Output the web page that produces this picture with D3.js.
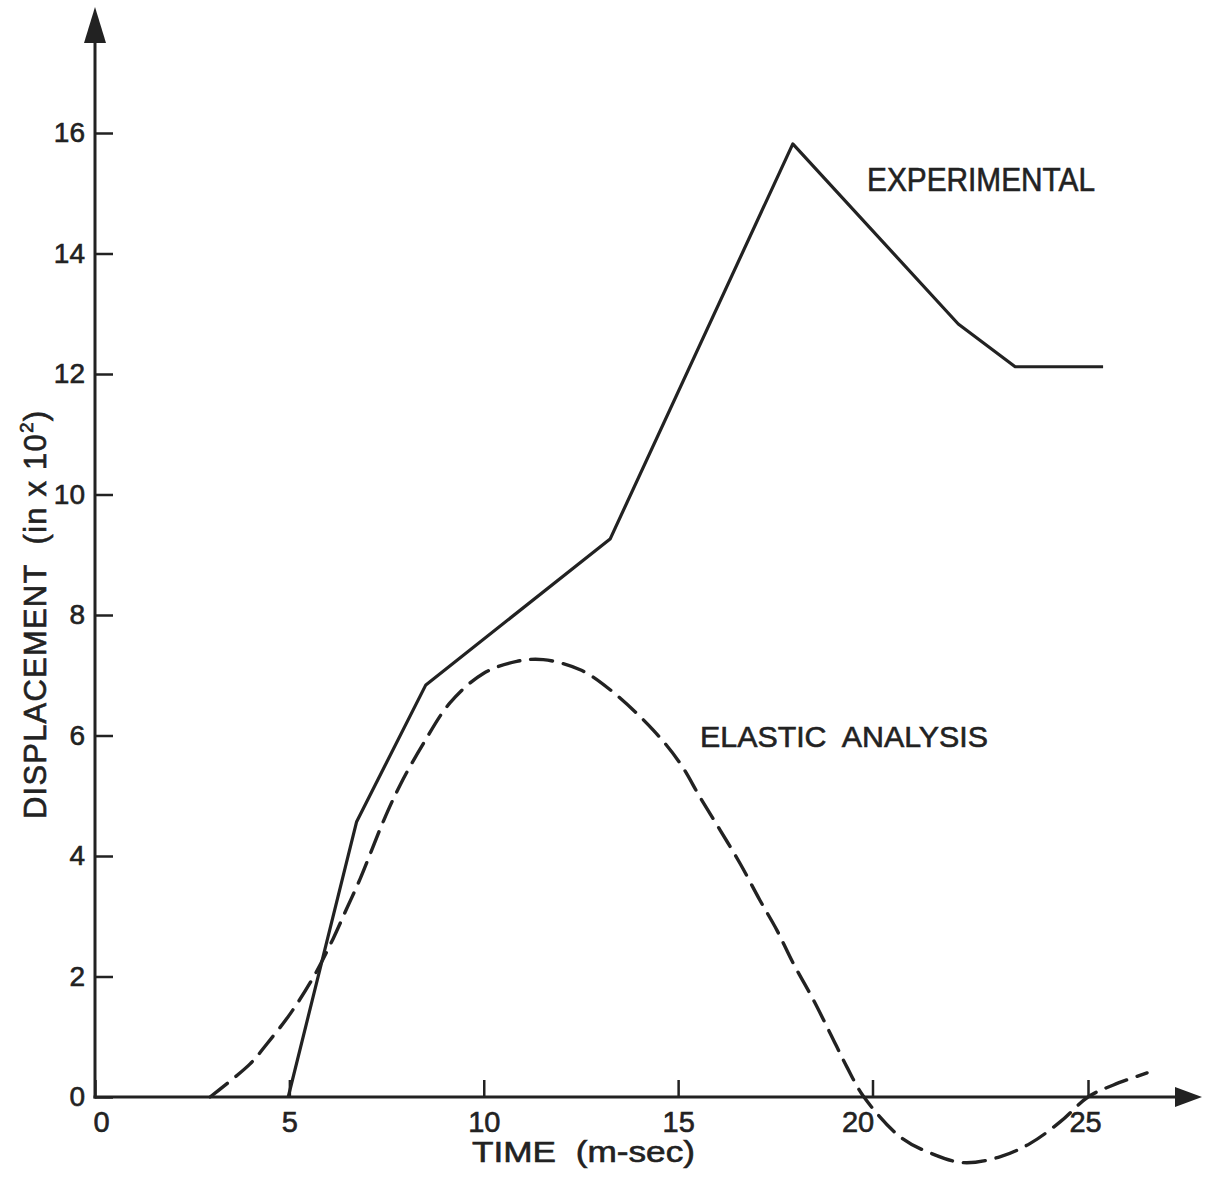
<!DOCTYPE html>
<meta charset="utf-8">
<script src="https://d3js.org/d3.v7.min.js"></script>
<style>
  body { margin: 0; background: #fff; }
  text { font-family: "Liberation Sans", Arial, sans-serif; fill: #222; stroke: #222; stroke-width: 0.6px; }
</style>
<div id="chart"></div>
<script>
// tick labels
var xTicks = [0, 5, 10, 15, 20, 25];
var yTicks = [0, 2, 4, 6, 8, 10, 12, 14, 16];

// experimental curve (time in m-sec, displacement in x 10^2)
var expTime = [4.97, 6.73, 8.51, 13.25, 17.95, 21.99, 23.31, 25.35];
var expDisp = [0, 4.57, 6.84, 9.26, 15.82, 12.83, 12.12, 12.12];

// elastic analysis curve
var elaTime = [2.96, 3.99, 4.42, 5.02, 5.61, 6.12, 6.47, 6.82, 7.42, 7.85, 8.45, 9.13, 9.99, 10.85, 11.53,
               12.48, 13.25, 14.36, 15.05, 15.56, 16.08, 16.59, 17.1, 17.54, 17.96, 18.44, 18.91, 19.34, 19.78,
               20.64, 21.34, 22.11, 22.97, 23.66, 24.36, 25.0, 25.59, 26.37];
var elaDisp = [0, 0.55, 0.88, 1.38, 1.98, 2.62, 3.12, 3.62, 4.58, 5.18, 5.87, 6.54, 7.03, 7.23, 7.26,
               7.09, 6.76, 6.09, 5.54, 4.98, 4.43, 3.88, 3.27, 2.77, 2.22, 1.66, 1.06, 0.5, 0,
               -0.66, -0.93, -1.09, -0.99, -0.77, -0.41, 0, 0.2, 0.4];

var W = 1212, H = 1178;
var ink = "#222";

var svg = d3.select("#chart").append("svg")
  .attr("width", W)
  .attr("height", H);

// the hand drawn time axis is a bit stretched after 20
var x = d3.scaleLinear().domain([0, 20, 25]).range([95, 872.5, 1088]);
var y = d3.scaleLinear().domain([0, 16]).range([1097, 133]);

// x axis, ticks pointing up
var xAxis = svg.append("g")
  .attr("transform", "translate(0," + y(0) + ")")
  .call(d3.axisBottom(x).tickValues(xTicks).tickFormat(d3.format("d"))
    .tickSizeInner(-17).tickSizeOuter(0).tickPadding(14));
xAxis.select(".domain").remove();
xAxis.selectAll(".tick line").attr("stroke", ink).attr("stroke-width", 2.5);
xAxis.selectAll(".tick text").attr("font-size", 29).attr("fill", ink)
  .attr("dx", function(d) { return d === 0 ? 6 : d === 20 ? -15 : d === 25 ? -3 : 0; });

// y axis, ticks pointing right
var yAxis = svg.append("g")
  .attr("transform", "translate(" + x(0) + ",0)")
  .call(d3.axisLeft(y).tickValues(yTicks).tickFormat(d3.format("d"))
    .tickSizeInner(-18).tickSizeOuter(0).tickPadding(10));
yAxis.select(".domain").remove();
yAxis.selectAll(".tick line").attr("stroke", ink).attr("stroke-width", 2.5);
yAxis.selectAll(".tick text").attr("font-size", 28).attr("fill", ink);

// axis lines with arrow heads
svg.append("line")
  .attr("x1", x(0)).attr("x2", x(0))
  .attr("y1", y(0) + 1.5).attr("y2", 40)
  .attr("stroke", ink).attr("stroke-width", 3);
svg.append("path")
  .attr("d", "M" + x(0) + ",7 L" + (x(0) - 11) + ",43 L" + (x(0) + 11) + ",43 Z")
  .attr("fill", ink);

svg.append("line")
  .attr("x1", x(0) - 1.5).attr("x2", 1178)
  .attr("y1", y(0)).attr("y2", y(0))
  .attr("stroke", ink).attr("stroke-width", 3);
svg.append("path")
  .attr("d", "M1202," + y(0) + " L1175," + (y(0) - 10) + " L1175," + (y(0) + 10) + " Z")
  .attr("fill", ink);

// experimental line
var expData = expTime.map(function(t, i) { return [t, expDisp[i]]; });
svg.append("path")
  .datum(expData)
  .attr("fill", "none")
  .attr("stroke", ink)
  .attr("stroke-width", 3.2)
  .attr("stroke-linejoin", "round")
  .attr("d", d3.line().x(function(d) { return x(d[0]); }).y(function(d) { return y(d[1]); }));

// elastic analysis, dashed
var elaData = elaTime.map(function(t, i) { return [t, elaDisp[i]]; });
svg.append("path")
  .datum(elaData)
  .attr("fill", "none")
  .attr("stroke", ink)
  .attr("stroke-width", 3.4)
  .attr("stroke-linecap", "round")
  .attr("stroke-dasharray", "22,11")
  .attr("d", d3.line().curve(d3.curveCatmullRom.alpha(0.5))
    .x(function(d) { return x(d[0]); }).y(function(d) { return y(d[1]); }));

// labels
svg.append("text")
  .attr("x", 867).attr("y", 191)
  .attr("font-size", 33)
  .attr("textLength", 228).attr("lengthAdjust", "spacingAndGlyphs")
  .text("EXPERIMENTAL");

svg.append("text")
  .attr("x", 700).attr("y", 747)
  .attr("font-size", 30)
  .attr("textLength", 288).attr("lengthAdjust", "spacingAndGlyphs")
  .attr("xml:space", "preserve")
  .text("ELASTIC  ANALYSIS");

svg.append("text")
  .attr("x", 472).attr("y", 1162)
  .attr("font-size", 29)
  .attr("textLength", 223).attr("lengthAdjust", "spacingAndGlyphs")
  .attr("xml:space", "preserve")
  .text("TIME  (m-sec)");

var yl = svg.append("text")
  .attr("transform", "translate(46,819) rotate(-90)")
  .attr("font-size", 31)
  .attr("letter-spacing", 1.2)
  .attr("xml:space", "preserve");
yl.append("tspan").text("DISPLACEMENT  (in x 10");
yl.append("tspan").attr("font-size", 19).attr("dy", -13).text("2");
yl.append("tspan").attr("dy", 13).text(")");
</script>
